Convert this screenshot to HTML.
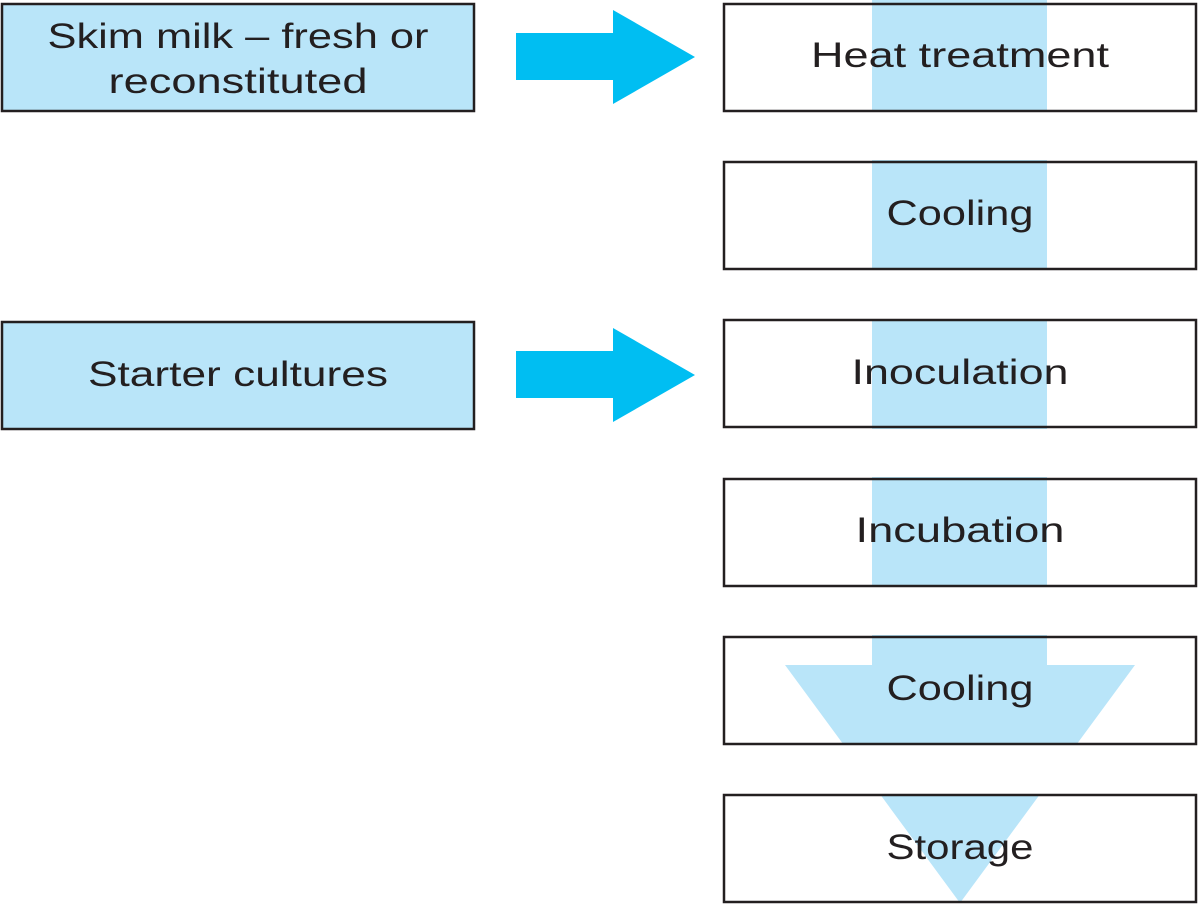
<!DOCTYPE html>
<html><head><meta charset="utf-8"><style>
html,body{margin:0;padding:0;background:#fff;}
svg{display:block;}
text{font-family:"Liberation Sans",sans-serif;font-size:35px;fill:#231f20;text-anchor:middle;}
</style></head><body>
<svg width="1200" height="904" viewBox="0 0 1200 904">
<rect width="1200" height="904" fill="#fff"/>
<polygon points="872,0 1047,0 1047,665 1135,665 960,903 785,665 872,665" fill="#b9e5f9"/>
<rect x="700" y="112" width="500" height="48" fill="#fff"/>
<rect x="700" y="270" width="500" height="49" fill="#fff"/>
<rect x="700" y="429" width="500" height="48" fill="#fff"/>
<rect x="700" y="587" width="500" height="48" fill="#fff"/>
<rect x="700" y="745" width="500" height="49" fill="#fff"/>
<g fill="none" stroke="#231f20" stroke-width="2.5">
<rect x="724" y="4" width="472" height="107"/>
<rect x="724" y="162" width="472" height="107"/>
<rect x="724" y="320" width="472" height="107"/>
<rect x="724" y="479" width="472" height="107"/>
<rect x="724" y="637" width="472" height="107"/>
<rect x="724" y="795" width="472" height="107"/>
</g>
<g fill="#b9e5f9" stroke="#231f20" stroke-width="2.5">
<rect x="2" y="4" width="472" height="107"/>
<rect x="2" y="322" width="472" height="107"/>
</g>
<polygon points="516,33 613,33 613,10 695,57 613,104 613,80 516,80" fill="#00bef2"/>
<polygon points="516,351 613,351 613,328 695,375 613,422 613,398 516,398" fill="#00bef2"/>
<text x="238" y="48" textLength="381" lengthAdjust="spacingAndGlyphs">Skim milk – fresh or</text>
<text x="238" y="93" textLength="259" lengthAdjust="spacingAndGlyphs">reconstituted</text>
<text x="238" y="386" textLength="300" lengthAdjust="spacingAndGlyphs">Starter cultures</text>
<text x="960" y="67" textLength="298" lengthAdjust="spacingAndGlyphs">Heat treatment</text>
<text x="960" y="225" textLength="147" lengthAdjust="spacingAndGlyphs">Cooling</text>
<text x="960" y="384" textLength="217" lengthAdjust="spacingAndGlyphs">Inoculation</text>
<text x="960" y="542" textLength="209" lengthAdjust="spacingAndGlyphs">Incubation</text>
<text x="960" y="700" textLength="147" lengthAdjust="spacingAndGlyphs">Cooling</text>
<text x="960" y="859" textLength="147" lengthAdjust="spacingAndGlyphs">Storage</text>
</svg>
</body></html>
